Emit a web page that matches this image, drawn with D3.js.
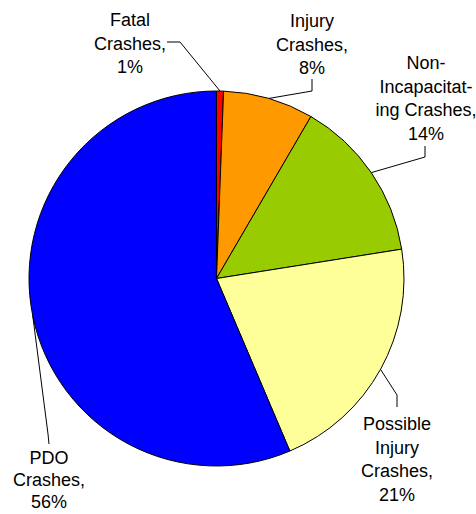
<!DOCTYPE html>
<html>
<head>
<meta charset="utf-8">
<script src="https://cdn.jsdelivr.net/npm/d3@7.9.0/dist/d3.min.js"></script>
<style>
  html, body { margin: 0; padding: 0; background: #fff; }
  svg { display: block; }
</style>
</head>
<body>
<svg id="chart" width="476" height="514"></svg>
<script>
// crash severity shares (percent)
const categories = ["Fatal", "Injury", "Non-Incapacitating", "Possible Injury", "PDO"];
const values = [0.6, 7.8, 14.1, 21.1, 56.4];
const labelLines = [
  ["Fatal", "Crashes,"],
  ["Injury", "Crashes,"],
  ["Non-", "Incapacitat-", "ing Crashes,"],
  ["Possible", "Injury", "Crashes,"],
  ["PDO", "Crashes,"]
];
const colors = ["#FF0000", "#FF9900", "#99CC00", "#FFFF99", "#0000FF"];

// label placement: text centre x, first baseline, line gap, elbow point, end of leader
const labelLayout = [
  { x: 130, y: 26, gap: 23.5, elbow: [180, 42], end: [167, 42] },
  { x: 312, y: 27, gap: 23.5, elbow: [312, 91], end: [312, 79] },
  { x: 426, y: 69, gap: 23.5, elbow: [425, 157], end: [425, 146] },
  { x: 397, y: 430, gap: 23.5, elbow: [397, 395], end: [397, 407] },
  { x: 49, y: 464, gap: 22, elbow: [48, 434], end: [49, 444] }
];

const cx = 216.5, cy = 278.5, radius = 187.5;

const svg = d3.select("#chart");
const g = svg.append("g").attr("transform", `translate(${cx}, ${cy})`);

const data = categories.map((c, i) => ({ name: c, value: values[i], idx: i }));
const total = d3.sum(values);

const pie = d3.pie().sort(null).value(d => d.value);
const arcs = pie(data);

const arc = d3.arc().innerRadius(0).outerRadius(radius);
const edgeArc = d3.arc().innerRadius(radius).outerRadius(radius);

g.selectAll("path.slice")
  .data(arcs)
  .join("path")
  .attr("class", "slice")
  .attr("d", arc)
  .attr("fill", d => colors[d.data.idx])
  .attr("stroke", "#000")
  .attr("stroke-width", 1);

// leader lines
arcs.forEach(d => {
  const lay = labelLayout[d.data.idx];
  const p = edgeArc.centroid(d);
  const pts = [[p[0] + cx, p[1] + cy], lay.elbow, lay.end];
  svg.append("path")
    .attr("d", d3.line()(pts))
    .attr("fill", "none")
    .attr("stroke", "#000")
    .attr("stroke-width", 1);
});

// labels
arcs.forEach(d => {
  const lay = labelLayout[d.data.idx];
  const lines = labelLines[d.data.idx].concat([Math.round(d.data.value / total * 100) + "%"]);
  const t = svg.append("text")
    .attr("text-anchor", "middle")
    .style("font-family", "'Liberation Sans', Arial, sans-serif")
    .style("font-size", "18px")
    .attr("fill", "#000");
  lines.forEach((ln, i) => {
    t.append("tspan")
      .attr("x", lay.x)
      .attr("y", lay.y + i * lay.gap)
      .text(ln);
  });
});
</script>
</body>
</html>
